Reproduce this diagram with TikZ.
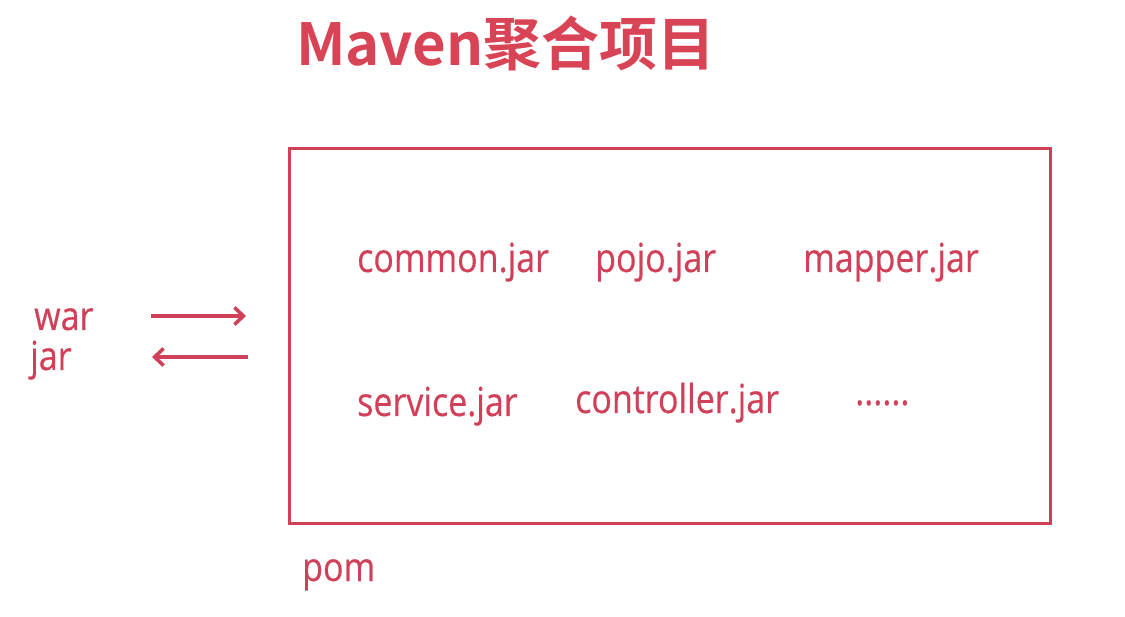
\documentclass[tikz,border=0pt]{standalone}
\usepackage{fontspec}
\usetikzlibrary{arrows.meta}
\newfontfamily\titlefont{Noto Sans CJK SC Bold}
\newfontfamily\bodyfont[FakeStretch=0.85,FakeBold=0.4]{Open Sans}
\definecolor{mred}{RGB}{208,64,88}
\definecolor{tred}{RGB}{216,68,86}
\begin{document}
\begin{tikzpicture}[x=1pt,y=-1pt,
  lbl/.style={anchor=base west,inner sep=0pt,text=mred,font=\bodyfont\fontsize{40}{48}\selectfont},
  arr/.style={draw=mred,line width=3.5pt,-{Straight Barb[length=9pt,width=17pt,line width=3.5pt]}},
  arrshadow/.style={draw=black!25,opacity=0.5,line width=3.5pt,-{Straight Barb[length=9pt,width=17pt,line width=3.5pt]}}]
\useasboundingbox (0,0) rectangle (1125,617);
\fill[white] (0,0) rectangle (1125,617);
\node[anchor=base west,inner sep=0pt,text=tred,font=\titlefont\fontsize{58}{66}\selectfont] (title) at (296,66) {Maven聚合项目};
\draw[mred,line width=3pt] (289,149) rectangle (1050,523);
\node[lbl] (common) at (357,272) {common.jar};
\node[lbl] (pojo) at (595,272) {pojo.jar};
\node[lbl] (mapper) at (803,272) {mapper.jar};
\node[lbl] (service) at (357,416) {service.jar};
\node[lbl] (controller) at (575,413) {controller.jar};
\node[lbl] (dots) at (855,405) {......};
\node[lbl] (war) at (34,330) {war};
\node[lbl] (jar) at (30,370) {jar};
\node[lbl] (pom) at (302,581) {pom};
\coordinate (a1) at (151,316);
\coordinate (a2) at (246,316);
\coordinate (b1) at (248,357);
\coordinate (b2) at (152,357);
\begin{scope}[shift={(2,3)}]
\draw[arrshadow] (a1) -- (a2);
\draw[arrshadow] (b1) -- (b2);
\end{scope}
\draw[arr] (a1) -- (a2);
\draw[arr] (b1) -- (b2);
\end{tikzpicture}
\end{document}
